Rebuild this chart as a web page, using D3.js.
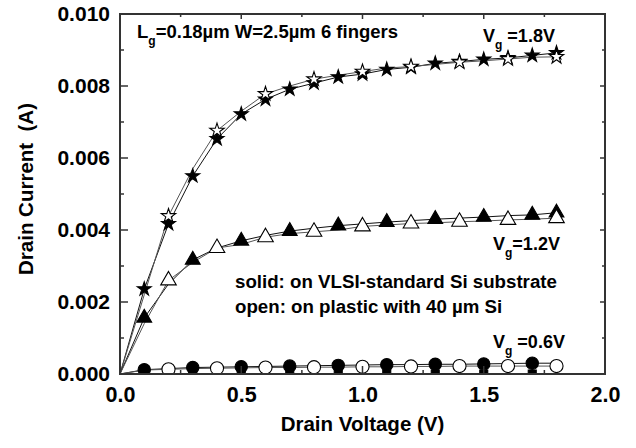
<!DOCTYPE html>
<html><head><meta charset="utf-8">
<script src="https://cdn.jsdelivr.net/npm/d3@7"></script>
<style>
body{margin:0;background:#fff}
text{font-family:"Liberation Sans",Arial,sans-serif;font-weight:bold;fill:#000}
</style>
</head><body><svg id="c" width="636" height="448"></svg>
<script>
// ---- data ----
const vd = [0,0.1,0.2,0.3,0.4,0.5,0.6,0.7,0.8,0.9,1.0,1.1,1.2,1.3,1.4,1.5,1.6,1.7,1.8];
// Vg = 1.8 V
const starSolid = [0,0.00236,0.00417,0.0055,0.00653,0.00722,0.00763,0.00791,0.00808,0.00825,0.00833,0.00846,0.00852,0.00863,0.00868,0.00874,0.00878,0.00885,0.00892];
const starOpen  = [0,0.0022,0.00439,0.0057,0.00676,0.0073,0.00778,0.0080,0.00819,0.0083,0.0084,0.0085,0.00854,0.0086,0.00866,0.0087,0.00875,0.0088,0.00881];
// Vg = 1.2 V
const triSolid  = [0,0.00156,0.0025,0.00317,0.0035,0.0037,0.00385,0.00397,0.00405,0.00412,0.00417,0.00422,0.00426,0.0043,0.00433,0.00436,0.0044,0.00442,0.00448];
const triOpen   = [0,0.0014,0.0026,0.0031,0.0035,0.0036,0.0038,0.0039,0.00395,0.004,0.0041,0.00414,0.00418,0.0042,0.00423,0.00425,0.00428,0.0043,0.00433];
// Vg = 0.6 V
const cirSolid  = [0,0.00012,0.00015,0.00018,0.00019,0.0002,0.00021,0.00022,0.00023,0.00024,0.00025,0.00026,0.00026,0.00027,0.00027,0.00028,0.00029,0.0003,0.0003];
const cirOpen   = [0,0.00011,0.00013,0.00015,0.00016,0.00017,0.00018,0.00018,0.00019,0.00019,0.0002,0.0002,0.00021,0.00021,0.00022,0.00022,0.00022,0.00022,0.00022];
const sqSolid   = [0,0,0,0,0,0,0,0,0,0,0,0,0,0,0,0,0,0,0];
// which points carry a marker
const allIdx  = [1,2,3,4,5,6,7,8,9,10,11,12,13,14,15,16,17,18];
const oddIdx  = [1,3,5,7,9,11,13,15,17];
const evenIdx = [2,4,6,8,10,12,14,16,18];
const triSolidIdx = [1,3,5,7,9,11,13,15,17,18];
const xTicks = [0,0.5,1.0,1.5,2.0];
const yTicks = [0,0.002,0.004,0.006,0.008,0.010];

// ---- layout ----
const L=120, R=605, T=14, B=374;
const svg = d3.select("#c");
const x = d3.scaleLinear().domain([0,2]).range([L,R]);
const y = d3.scaleLinear().domain([0,0.010]).range([B,T]);

svg.append("defs").append("clipPath").attr("id","pc")
  .append("rect").attr("x",L).attr("y",T-10).attr("width",R-L+10).attr("height",B-T+10);

const plot = svg.append("g").attr("clip-path","url(#pc)");

function series(vals, color){
  const line = d3.line().x((d,i)=>x(vd[i])).y(d=>y(d));
  plot.append("path").datum(vals).attr("d",line)
    .attr("fill","none").attr("stroke",color).attr("stroke-width",1);
}
function markers(vals, idx, type, size, filled){
  plot.append("g").selectAll("path").data(idx).join("path")
    .attr("transform",i=>`translate(${x(vd[i])},${y(vals[i])})`)
    .attr("d",d3.symbol().type(type).size(size))
    .attr("fill",filled?"#000":"#fff").attr("stroke","#000").attr("stroke-width",1.1);
}

series(starSolid,"#111"); series(starOpen,"#555");
series(triSolid,"#111"); series(triOpen,"#555");
series(cirSolid,"#111"); series(cirOpen,"#555");

markers(sqSolid, oddIdx, d3.symbolSquare, 64, true);
markers(cirSolid, oddIdx, d3.symbolCircle, 120, true);
markers(cirOpen, evenIdx, d3.symbolCircle, 135, false);
markers(triSolid, triSolidIdx, d3.symbolTriangle, 95, true);
markers(triOpen, evenIdx, d3.symbolTriangle, 105, false);
markers(starSolid, allIdx, d3.symbolStar, 60, true);
markers(starOpen, evenIdx, d3.symbolStar, 64, false);

// ---- axes ----
const ax = svg.append("g");
const frameColor="#333";
for(let k=0; k<=10; k++){
  const v = k*0.001, major = k%2===0, yy = y(v);
  ax.append("line").attr("x1",L).attr("x2",L+(major?8:4)).attr("y1",yy).attr("y2",yy).attr("stroke",frameColor).attr("stroke-width",1.5);
  ax.append("line").attr("x1",R).attr("x2",R-(major?5:3)).attr("y1",yy).attr("y2",yy).attr("stroke",frameColor).attr("stroke-width",1.5);
}
for(let k=0; k<=8; k++){
  const v = k*0.25, major = k%2===0, xx = x(v);
  ax.append("line").attr("x1",xx).attr("x2",xx).attr("y1",B).attr("y2",B-(major?8:4)).attr("stroke",frameColor).attr("stroke-width",1.5);
  ax.append("line").attr("x1",xx).attr("x2",xx).attr("y1",T).attr("y2",T+(major?5:3)).attr("stroke",frameColor).attr("stroke-width",1.5);
}
ax.append("rect").attr("x",L).attr("y",T).attr("width",R-L).attr("height",B-T)
  .attr("fill","none").attr("stroke",frameColor).attr("stroke-width",2);

// tick labels via axis generators
const xa = svg.append("g").attr("transform",`translate(0,${B})`)
  .call(d3.axisBottom(x).tickValues(xTicks).tickFormat(d3.format(".1f")).tickSize(0).tickPadding(13));
xa.select(".domain").remove();
xa.selectAll("text").attr("font-size",21.5).attr("dy","0.71em").attr("fill","#000");
const ya = svg.append("g").attr("transform",`translate(${L},0)`)
  .call(d3.axisLeft(y).tickValues(yTicks).tickFormat(d3.format(".3f")).tickSize(0).tickPadding(10));
ya.select(".domain").remove();
ya.selectAll("text").attr("font-size",21).attr("fill","#000");
svg.selectAll(".tick text").style("font-family",'"Liberation Sans",Arial,sans-serif').style("font-weight","bold");

// axis titles
svg.append("text").attr("x",(L+R)/2).attr("y",431).attr("text-anchor","middle")
  .attr("font-size",20.5).text("Drain Voltage (V)");
svg.append("text").attr("transform",`translate(33,189) rotate(-90)`).attr("text-anchor","middle")
  .attr("font-size",20.5).attr("xml:space","preserve").text("Drain Current  (A)");

// annotations
function vg(xp, yp, rest){
  const t = svg.append("text").attr("x",xp).attr("y",yp).attr("font-size",18);
  t.append("tspan").text("V");
  t.append("tspan").attr("font-size",12).attr("dy",7).text("g");
  t.append("tspan").attr("dy",-7).text(rest);
}
const t1 = svg.append("text").attr("x",137).attr("y",38).attr("font-size",18.5);
t1.append("tspan").text("L");
t1.append("tspan").attr("font-size",12).attr("dy",7).text("g");
t1.append("tspan").attr("dy",-7).text("=0.18\u00b5m W=2.5\u00b5m 6 fingers");
vg(483,42," =1.8V");
vg(493,250,"=1.2V");
vg(493,348," =0.6V");
svg.append("text").attr("x",235).attr("y",288).attr("font-size",18.7).text("solid: on VLSI-standard Si substrate");
svg.append("text").attr("x",235).attr("y",313).attr("font-size",18.7).text("open: on plastic with 40 \u00b5m Si");
</script></body></html>
